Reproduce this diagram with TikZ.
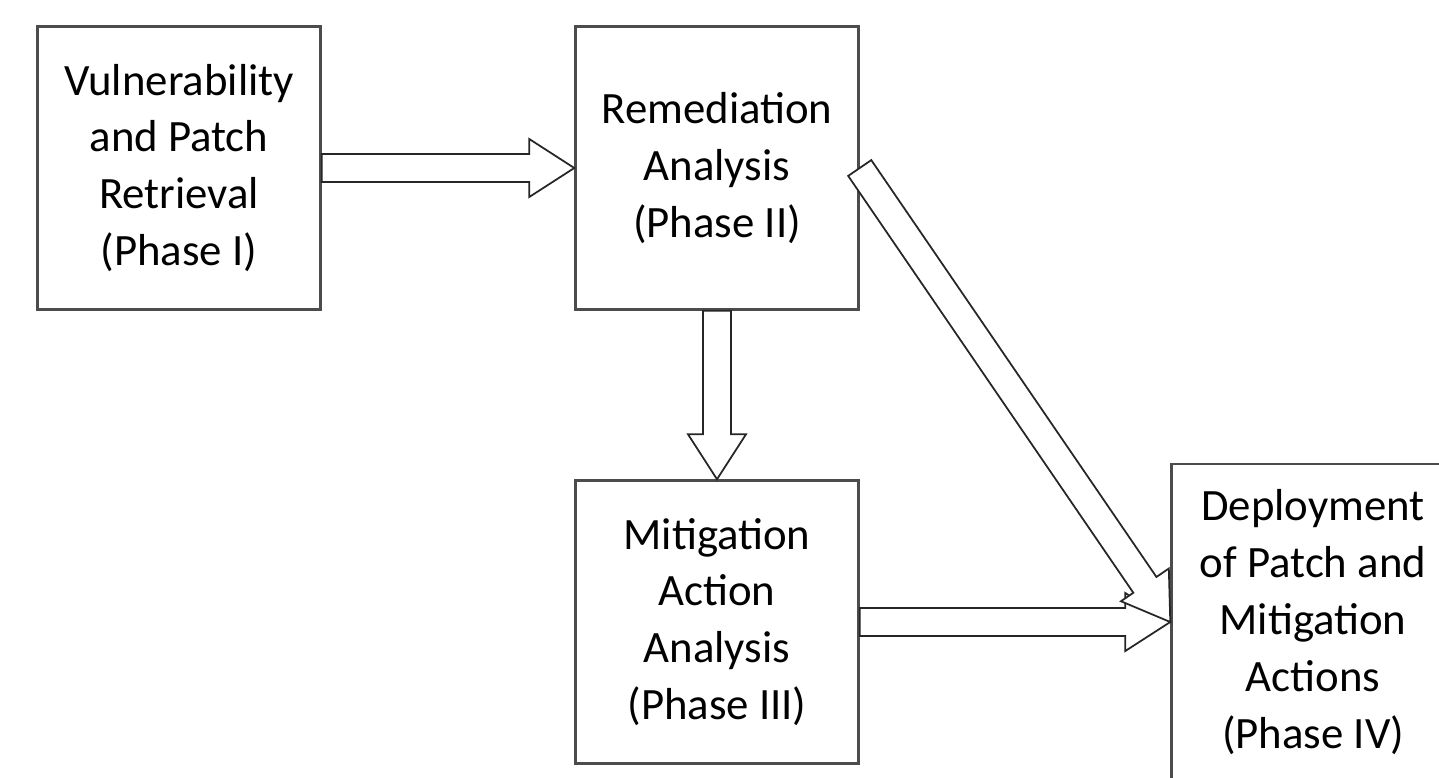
\documentclass[tikz,border=0pt]{standalone}
\usepackage{fontspec}
\setmainfont{Carlito}
\usetikzlibrary{calc,positioning}

% hollow block arrow from one node anchor to another
\newcommand{\blockarrow}[2]{%
  \coordinate (head) at ($(#2)!0.9cm!(#1)$);
  \draw[flow] ($(#1)!0.28cm!90:(#2)$) -- ($(head)!0.28cm!90:(#2)$)
    -- ($(head)!0.58cm!90:(#2)$) -- (#2) -- ($(head)!0.58cm!-90:(#2)$)
    -- ($(head)!0.28cm!-90:(#2)$) -- ($(#1)!0.28cm!-90:(#2)$) -- cycle;
}

\begin{document}
\begin{tikzpicture}[x=0.02cm, y=-0.02cm,
    phase/.style={draw=black!70, line width=0.05cm, fill=white, minimum width=5.66cm,
                  minimum height=5.66cm, inner sep=0pt, align=center,
                  font=\fontsize{25.5}{32.4}\selectfont},
    flow/.style={draw=black!85, line width=0.035cm, fill=white, line join=miter}]
    \useasboundingbox (0,0) rectangle (1439,777);

    % Phases
    \node[phase] (retrieval) at (179,168) {Vulnerability\\and Patch\\Retrieval\\(Phase I)};
    \node[phase] (remediation) at (717,168) {Remediation\\Analysis\\(Phase II)};
    \node[phase] (mitigation) at (717,622) {Mitigation\\Action\\Analysis\\(Phase III)};
    \node[phase, minimum height=6.32cm] (deployment) at (1313,622)
          {Deployment\\of Patch and\\Mitigation\\Actions\\(Phase IV)};

    % Flow between phases
    \blockarrow{retrieval.east}{remediation.west}
    \blockarrow{remediation.south}{mitigation.north}
    \blockarrow{mitigation.east}{deployment.west}
    \blockarrow{remediation.east}{deployment.west}
\end{tikzpicture}
\end{document}
